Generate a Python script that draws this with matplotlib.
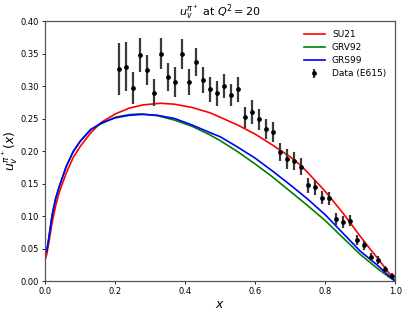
"""Valence quark distribution of the pion: SU21 / GRV92 / GRS99 vs E615."""

import matplotlib

matplotlib.use("Agg")
import matplotlib.pyplot as plt
from matplotlib.ticker import FormatStrFormatter

# E615 data points
data_x = [0.21, 0.23, 0.25, 0.27, 0.29, 0.31, 0.33, 0.35, 0.37, 0.39,
          0.41, 0.43, 0.45, 0.47, 0.49, 0.51, 0.53, 0.55, 0.57, 0.59,
          0.61, 0.63, 0.65, 0.67, 0.69, 0.71, 0.73, 0.75, 0.77, 0.79,
          0.81, 0.83, 0.85, 0.87, 0.89, 0.91, 0.93, 0.95, 0.97, 0.99]
data_y = [0.326, 0.330, 0.297, 0.348, 0.325, 0.290, 0.350, 0.314, 0.306, 0.349,
          0.306, 0.337, 0.309, 0.295, 0.289, 0.300, 0.286, 0.295, 0.252, 0.260,
          0.249, 0.234, 0.229, 0.199, 0.188, 0.185, 0.176, 0.147, 0.144, 0.128,
          0.127, 0.095, 0.091, 0.093, 0.063, 0.055, 0.037, 0.032, 0.018, 0.008]
data_err = [0.040, 0.037, 0.025, 0.026, 0.023, 0.021, 0.024, 0.022, 0.023, 0.023,
            0.020, 0.022, 0.020, 0.019, 0.019, 0.018, 0.017, 0.019, 0.016, 0.018,
            0.016, 0.016, 0.015, 0.014, 0.015, 0.014, 0.013, 0.012, 0.011, 0.010,
            0.010, 0.0095, 0.009, 0.009, 0.0075, 0.007, 0.006, 0.006, 0.005, 0.004]

# model curves
su21_x = [0.0, 0.005, 0.01, 0.02, 0.03, 0.04, 0.06, 0.08, 0.10, 0.13, 0.16, 0.20,
          0.24, 0.28, 0.33, 0.37, 0.42, 0.47, 0.50, 0.55, 0.60, 0.65, 0.70, 0.73,
          0.75, 0.80, 0.85, 0.90, 0.93, 0.95, 0.98, 1.0]
su21_y = [0.033, 0.042, 0.058, 0.090, 0.116, 0.136, 0.166, 0.190, 0.207, 0.228, 0.244, 0.257,
          0.266, 0.271, 0.2735, 0.272, 0.267, 0.259, 0.252, 0.240, 0.226, 0.209, 0.191, 0.178,
          0.167, 0.138, 0.105, 0.069, 0.048, 0.035, 0.014, 0.0]

grv92_x = [0.0, 0.005, 0.01, 0.02, 0.03, 0.04, 0.06, 0.08, 0.10, 0.13, 0.16, 0.20,
           0.24, 0.27, 0.32, 0.37, 0.42, 0.47, 0.50, 0.55, 0.60, 0.65, 0.70, 0.75,
           0.80, 0.85, 0.90, 0.95, 0.98, 1.0]
grv92_y = [0.042, 0.048, 0.065, 0.102, 0.127, 0.145, 0.176, 0.199, 0.215, 0.233, 0.242, 0.252,
           0.256, 0.257, 0.2545, 0.2475, 0.238, 0.225, 0.216, 0.199, 0.180, 0.160, 0.138, 0.116,
           0.093, 0.067, 0.041, 0.019, 0.007, 0.0]

grs99_x = [0.0, 0.005, 0.01, 0.02, 0.03, 0.04, 0.06, 0.08, 0.10, 0.13, 0.16, 0.20,
           0.24, 0.28, 0.32, 0.37, 0.42, 0.47, 0.50, 0.55, 0.60, 0.65, 0.70, 0.75,
           0.80, 0.85, 0.90, 0.95, 0.98, 1.0]
grs99_y = [0.042, 0.048, 0.065, 0.102, 0.127, 0.145, 0.176, 0.199, 0.215, 0.233, 0.243, 0.251,
           0.255, 0.2565, 0.255, 0.250, 0.240, 0.2285, 0.222, 0.206, 0.189, 0.169, 0.148, 0.126,
           0.102, 0.074, 0.046, 0.024, 0.009, 0.0]


def main() -> None:
    fig = plt.figure(figsize=(4.07, 3.14), dpi=100)
    ax = fig.add_axes([0.111, 0.105, 0.860, 0.828])

    ax.plot(su21_x, su21_y, color="red", lw=1.2, label="SU21")
    ax.plot(grv92_x, grv92_y, color="green", lw=1.2, label="GRV92")
    ax.plot(grs99_x, grs99_y, color="blue", lw=1.2, label="GRS99")
    ax.errorbar(data_x, data_y, yerr=data_err, fmt="o", color="black", ms=2.4,
                ecolor="#3a3a3a", elinewidth=1.6, capsize=0, label="Data (E615)")

    ax.set_xlim(0, 1)
    ax.set_ylim(0, 0.4)
    ax.set_xticks([0.0, 0.2, 0.4, 0.6, 0.8, 1.0])
    ax.set_yticks([0.0, 0.05, 0.10, 0.15, 0.20, 0.25, 0.30, 0.35, 0.40])
    ax.yaxis.set_major_formatter(FormatStrFormatter("%.2f"))
    ax.tick_params(labelsize=6, length=2.5, width=0.6, pad=2)
    for sp in ax.spines.values():
        sp.set_linewidth(0.9)
        sp.set_color("#555555")

    ax.set_xlabel("$x$", fontsize=9, labelpad=1)
    ax.set_ylabel(r"$u_v^{\pi^+}(x)$", fontsize=9)
    ax.yaxis.set_label_coords(-0.072, 0.5)
    ax.set_title(r"$u_v^{\pi^+}$ at $Q^2 = 20$", fontsize=8, pad=4)
    ax.legend(loc="upper right", fontsize=6.5, frameon=False, handlelength=2.3,
              borderaxespad=0.6, labelspacing=0.45)

    fig.savefig("out.png", dpi=100)
    plt.close(fig)


if __name__ == "__main__":
    main()
